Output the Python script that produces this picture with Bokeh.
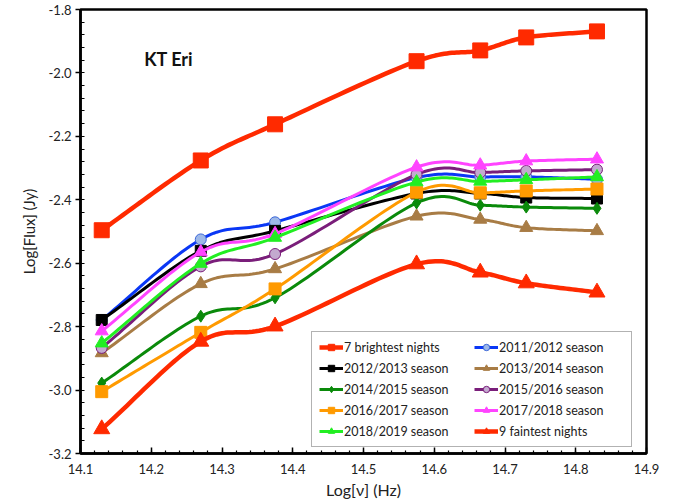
import numpy as np
from bokeh.plotting import figure
from bokeh.models import (Range1d, SingleIntervalTicker, NumeralTickFormatter,
                          Legend, LegendItem, Label)
from bokeh.embed import file_html
from bokeh.resources import INLINE

# log frequency of the photometric bands
log_nu = [14.13, 14.27, 14.375, 14.575, 14.665, 14.73, 14.83]

brightest = [-2.496, -2.276, -2.162, -1.963, -1.929, -1.888, -1.869]
s2011 = [-2.779, -2.525, -2.471, -2.330, -2.328, -2.328, -2.335]
s2012 = [-2.779, -2.561, -2.498, -2.380, -2.380, -2.393, -2.396]
s2013 = [-2.883, -2.665, -2.618, -2.452, -2.462, -2.488, -2.498]
s2014 = [-2.978, -2.767, -2.709, -2.410, -2.417, -2.423, -2.427]
s2015 = [-2.867, -2.610, -2.571, -2.320, -2.314, -2.309, -2.305]
s2016 = [-3.005, -2.818, -2.681, -2.376, -2.378, -2.372, -2.366]
s2017 = [-2.814, -2.565, -2.507, -2.297, -2.291, -2.278, -2.272]
s2018 = [-2.852, -2.601, -2.519, -2.344, -2.342, -2.337, -2.328]
faintest = [-3.123, -2.847, -2.799, -2.603, -2.629, -2.663, -2.692]

series_names = ["7 brightest nights", "2011/2012 season", "2012/2013 season",
                "2013/2014 season", "2014/2015 season", "2015/2016 season",
                "2016/2017 season", "2017/2018 season", "2018/2019 season",
                "9 faintest nights"]

FONT = "Lato"

# (values, line colour, marker, marker fill, marker edge, marker size, line width)
styles = [
    (brightest, "#FF2A00", "square", "#FF2A00", "#FF2A00", 15, 4.5),
    (s2011, "#0A37F5", "circle", "#9DB8E8", "#3A66D8", 11, 3),
    (s2012, "#000000", "square", "#000000", "#000000", 11, 3),
    (s2013, "#A87C45", "triangle", "#A87C45", "#A87C45", 13, 3),
    (s2014, "#0A8A0A", "diamond", "#0A8A0A", "#0A8A0A", 12, 3),
    (s2015, "#7A1E7A", "circle", "#C3AACF", "#7A1E7A", 11, 3),
    (s2016, "#FF9A00", "square", "#FF9A00", "#FF9A00", 12, 3),
    (s2017, "#FF44FF", "triangle", "#FF44FF", "#FF44FF", 13, 3),
    (s2018, "#22EE22", "triangle", "#22EE22", "#22EE22", 13, 3),
    (faintest, "#FF2A00", "triangle", "#FF2A00", "#FF2A00", 16, 4.5),
]


def smooth(xs, ys, n=24):
    """Catmull-Rom curve through the points, like a smoothed spreadsheet line."""
    x = np.asarray(xs, float)
    y = np.asarray(ys, float)
    px = np.concatenate([[2 * x[0] - x[1]], x, [2 * x[-1] - x[-2]]])
    py = np.concatenate([[2 * y[0] - y[1]], y, [2 * y[-1] - y[-2]]])
    ox, oy = [], []
    for i in range(1, len(px) - 2):
        t = np.linspace(0, 1, n, endpoint=False)
        for arr, out in ((px, ox), (py, oy)):
            p0, p1, p2, p3 = arr[i - 1], arr[i], arr[i + 1], arr[i + 2]
            out.extend(0.5 * ((2 * p1) + (-p0 + p2) * t
                              + (2 * p0 - 5 * p1 + 4 * p2 - p3) * t ** 2
                              + (-p0 + 3 * p1 - 3 * p2 + p3) * t ** 3))
    ox.append(x[-1])
    oy.append(y[-1])
    return ox, oy


p = figure(width=673, height=503, output_backend="svg", toolbar_location=None,
           x_range=Range1d(14.1, 14.9), y_range=Range1d(-3.2, -1.8),
           min_border_left=80, min_border_right=27, min_border_top=9,
           min_border_bottom=50)
p.background_fill_color = "white"
p.border_fill_color = "white"
p.outline_line_color = "black"
p.outline_line_width = 2.5
p.xgrid.visible = False
p.ygrid.visible = False

p.xaxis.ticker = SingleIntervalTicker(interval=0.1, num_minor_ticks=5)
p.yaxis.ticker = SingleIntervalTicker(interval=0.2, num_minor_ticks=5)
p.xaxis.formatter = NumeralTickFormatter(format="0.0")
p.yaxis.formatter = NumeralTickFormatter(format="0.0")
for ax in (p.xaxis[0], p.yaxis[0]):
    ax.axis_line_width = 2.5
    ax.axis_line_color = "black"
    ax.major_tick_line_width = 1.5
    ax.minor_tick_line_width = 1.2
    ax.major_label_text_font = FONT
    ax.major_label_text_font_size = "13px"
    ax.major_label_text_color = "#222222"
    ax.axis_label_text_font = FONT
    ax.axis_label_text_font_style = "normal"
    ax.axis_label_text_color = "#222222"

p.xaxis.major_tick_in = 6
p.xaxis.major_tick_out = 0
p.xaxis.minor_tick_in = 3
p.xaxis.minor_tick_out = 0
p.xaxis.major_label_standoff = 10
p.xaxis.axis_label = "Log[ν] (Hz)"
p.xaxis.axis_label_text_font_size = "16px"
p.xaxis.axis_label_standoff = 3

p.yaxis.major_tick_in = 0
p.yaxis.major_tick_out = 5
p.yaxis.minor_tick_in = 4
p.yaxis.minor_tick_out = 0
p.yaxis.major_label_standoff = 4
p.yaxis.axis_label = "Log[Flux] (Jy)"
p.yaxis.axis_label_text_font_size = "15px"
p.yaxis.axis_label_standoff = 8

items = []
for name, (vals, col, mk, fill, edge, size, lw) in zip(series_names, styles):
    sx, sy = smooth(log_nu, vals)
    ln = p.line(sx, sy, line_color=col, line_width=lw, line_join="round")
    sc = p.scatter(log_nu, vals, marker=mk, size=size, fill_color=fill,
                   line_color=edge, line_width=1)
    items.append(LegendItem(label=name, renderers=[ln, sc]))

# the legend fills column by column; list the entries so they read across rows
order = [0, 2, 4, 6, 8, 1, 3, 5, 7, 9]
legend = Legend(items=[items[i] for i in order], ncols=2, location=(231, 6),
                label_text_font=FONT, label_text_font_size="12.5px",
                label_text_color="#222222",
                glyph_width=24, glyph_height=16, label_height=16,
                label_width=125, label_standoff=1, spacing=5, padding=7,
                margin=0,
                border_line_color="#666666", border_line_width=1,
                background_fill_color="white", background_fill_alpha=1.0)
p.add_layout(legend, "center")

p.add_layout(Label(x=14.19, y=-1.955, text="KT Eri", text_font=FONT,
                   text_font_size="18px", text_font_style="bold",
                   text_baseline="middle", text_color="#111111"))

open("out.html", "w").write(file_html(p, INLINE))
